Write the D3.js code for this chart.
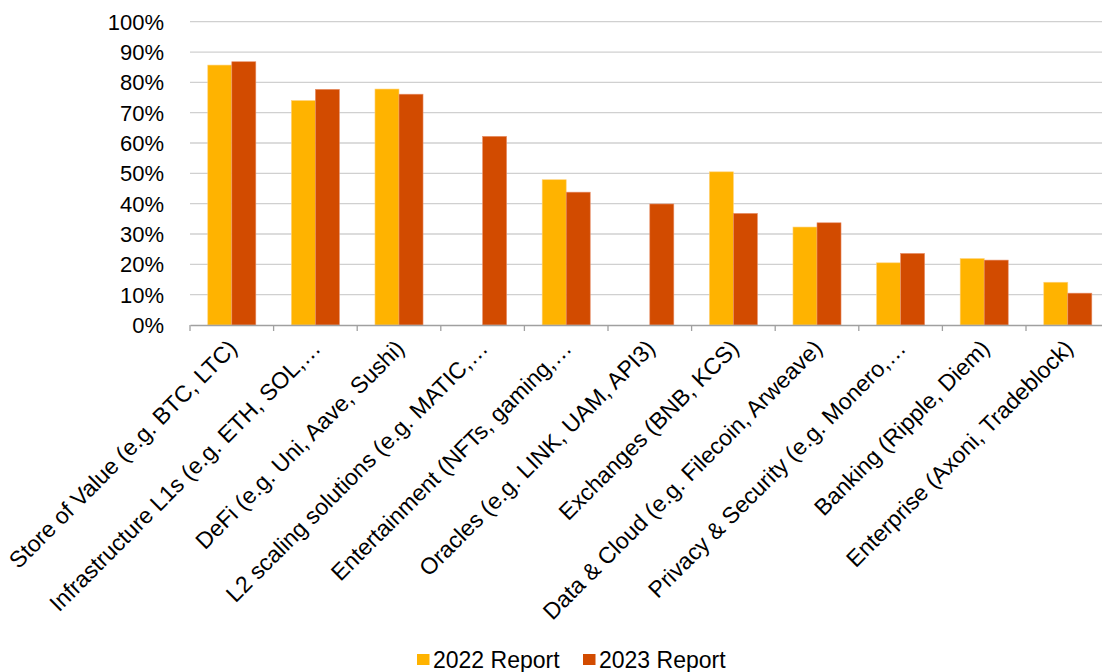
<!DOCTYPE html>
<html><head><meta charset="utf-8">
<script src="https://cdn.jsdelivr.net/npm/d3@7"></script>
<style>
body{margin:0;background:#fff;}
text{font-family:Arial,"Liberation Sans",sans-serif;fill:#000;}
</style></head>
<body><svg id="c" width="1102" height="672"></svg>
<script>
const categories = [
  "Store of Value (e.g. BTC, LTC)",
  "Infrastructure L1s (e.g. ETH, SOL,…",
  "DeFi (e.g. Uni, Aave, Sushi)",
  "L2 scaling solutions (e.g. MATIC,…",
  "Entertainment (NFTs, gaming,…",
  "Oracles (e.g. LINK, UAM, API3)",
  "Exchanges (BNB, KCS)",
  "Data & Cloud (e.g. Filecoin, Arweave)",
  "Privacy & Security (e.g. Monero,…",
  "Banking (Ripple, Diem)",
  "Enterprise (Axoni, Tradeblock)"
];
const series = ["2022 Report", "2023 Report"];
const values2022 = [0.857, 0.740, 0.778, 0, 0.479, 0, 0.505, 0.323, 0.205, 0.219, 0.141];
const values2023 = [0.868, 0.777, 0.761, 0.622, 0.438, 0.399, 0.368, 0.337, 0.236, 0.214, 0.105];
const yTicks = [0,0.1,0.2,0.3,0.4,0.5,0.6,0.7,0.8,0.9,1.0];
const colors = ["#FFB300", "#D24B00"];

const svg = d3.select("#c");
const mLeft = 190, mRight = 1109.6, mTop = 21.7, mBottom = 325;
const x = d3.scaleBand().domain(categories).range([mLeft, mRight]).paddingInner(0).paddingOuter(0);
const x1 = d3.scaleBand().domain(series).range([0, x.bandwidth()]).paddingInner(0).paddingOuter(0.74);
const y = d3.scaleLinear().domain([0,1]).range([mBottom, mTop]);

// gridlines
svg.append("g").selectAll("line").data(yTicks.slice(1)).join("line")
  .attr("x1", mLeft).attr("x2", mRight)
  .attr("y1", d=>y(d)).attr("y2", d=>y(d))
  .attr("stroke", "#d0d0d0").attr("stroke-width", 1.3);

// y labels
svg.append("g").selectAll("text").data(yTicks).join("text")
  .attr("x", 164).attr("y", d=>y(d)).attr("dy", "0.36em")
  .attr("text-anchor", "end").attr("font-size", 22)
  .text(d=>d3.format(".0%")(d));

// bars
const data = [values2022, values2023];
series.forEach((s, si) => {
  svg.append("g").selectAll("rect").data(categories).join("rect")
    .attr("x", c => x(c) + x1(s))
    .attr("width", x1.bandwidth())
    .attr("y", (c,i) => y(data[si][i]))
    .attr("height", (c,i) => y(0) - y(data[si][i]))
    .attr("fill", colors[si])
    .attr("stroke", si === 0 ? "#ffd27a" : "#e8906a")
    .attr("stroke-width", 0.6)
    .attr("display", (c,i) => data[si][i] > 0 ? null : "none");
});

// x axis
const xa = svg.append("g").attr("transform", `translate(0,${mBottom})`)
  .call(d3.axisBottom(x).tickSizeInner(0).tickSizeOuter(0).tickFormat(""));
xa.select(".domain").attr("stroke", "#a0a0a0").attr("stroke-width", 1.3);
const bounds = categories.map(c => x(c)).concat([mRight]);
svg.append("g").selectAll("line").data(bounds).join("line")
  .attr("x1", d=>d).attr("x2", d=>d).attr("y1", mBottom).attr("y2", mBottom+6)
  .attr("stroke", "#a0a0a0").attr("stroke-width", 1.3);

// x labels
svg.append("g").selectAll("text").data(categories).join("text")
  .attr("transform", c => `translate(${x(c)+x.bandwidth()/2+1},${mBottom+19}) rotate(-45)`)
  .attr("text-anchor", "end").attr("dy", "0.35em").attr("font-size", 23)
  .text(c => c);

// legend
const lg = svg.append("g");
const lx = [417, 583];
series.forEach((s, i) => {
  lg.append("rect").attr("x", lx[i]).attr("y", 654).attr("width", 12.5).attr("height", 11).attr("fill", colors[i]);
  lg.append("text").attr("x", lx[i]+16).attr("y", 668).attr("font-size", 23).text(s);
});
</script></body></html>
